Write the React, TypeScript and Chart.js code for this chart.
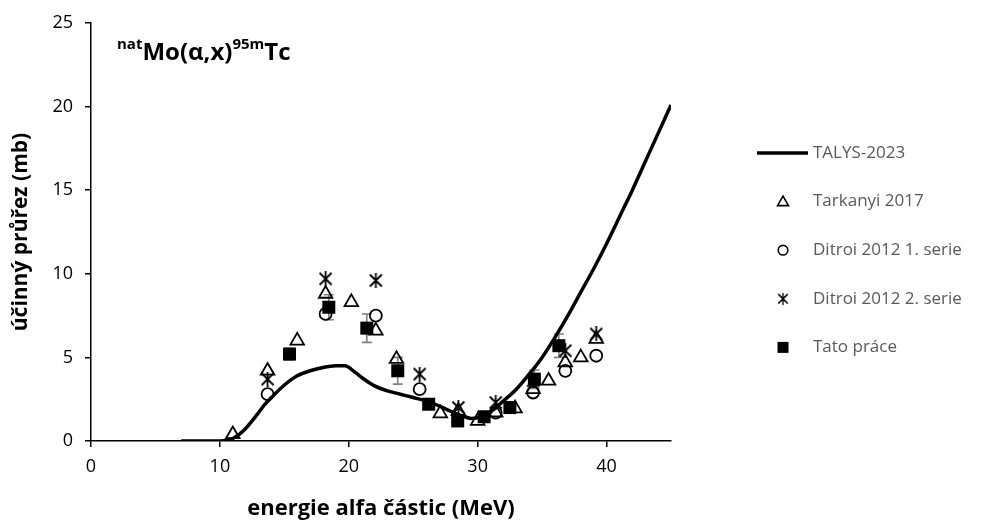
import React, { useEffect, useRef } from "react";
import { Chart, registerables } from "chart.js";

Chart.register(...registerables);

const FONT = "'Open Sans', sans-serif";

// TALYS-2023 model curve
const talysEnergy = [7, 10, 10.5, 11, 11.5, 12, 12.5, 13, 13.5, 14, 15, 16, 17, 18, 19, 19.7, 20.5, 21, 22, 23, 24, 25, 26, 27, 28, 29, 29.5, 30, 31, 32, 33, 34, 35, 36, 37, 38, 39, 40, 41, 42, 43, 44, 45];
const talysXs = [0, 0, 0.03, 0.15, 0.4, 0.75, 1.2, 1.7, 2.2, 2.6, 3.35, 3.9, 4.2, 4.4, 4.5, 4.5, 4.1, 3.8, 3.3, 3.0, 2.8, 2.6, 2.4, 2.1, 1.75, 1.45, 1.35, 1.4, 1.75, 2.4, 3.1, 4.0, 5.0, 6.2, 7.5, 8.9, 10.3, 11.8, 13.4, 15.0, 16.7, 18.4, 20.1];

// Tarkanyi 2017
const tarkanyiEnergy = [11.0, 13.7, 16.0, 18.2, 20.2, 22.1, 23.7, 27.1, 28.5, 30.0, 31.4, 32.9, 34.3, 35.5, 36.8, 38.0, 39.2];
const tarkanyiXs = [0.4, 4.2, 6.0, 8.8, 8.3, 6.6, 4.9, 1.65, 1.8, 1.2, 1.7, 1.95, 3.1, 3.6, 4.7, 5.0, 6.1];

// Ditroi 2012 1. serie
const ditroi1Energy = [13.7, 18.2, 22.1, 25.5, 31.4, 34.3, 36.8, 39.2];
const ditroi1Xs = [2.8, 7.6, 7.5, 3.1, 1.7, 2.9, 4.2, 5.1];

// Ditroi 2012 2. serie
const ditroi2Energy = [13.7, 18.2, 22.1, 25.5, 28.5, 31.4, 34.3, 36.8, 39.2];
const ditroi2Xs = [3.7, 9.7, 9.6, 4.0, 2.0, 2.3, 3.6, 5.4, 6.4];

// Tato práce (with uncertainties)
const tatoEnergy = [15.4, 18.45, 21.4, 23.8, 26.2, 28.45, 30.5, 32.5, 34.4, 36.3];
const tatoXs = [5.2, 8.0, 6.75, 4.2, 2.2, 1.2, 1.45, 2.0, 3.7, 5.7];
const tatoErr = [0.35, 0.75, 0.85, 0.8, 0.25, 0.15, 0.15, 0.15, 0.55, 0.7];

const xTicks = [0, 10, 20, 30, 40];

const seriesLabels = ["TALYS-2023", "Tarkanyi 2017", "Ditroi 2012 1. serie", "Ditroi 2012 2. serie", "Tato práce"];

function zip(xs: number[], ys: number[]) {
  return xs.map((x, i) => ({ x, y: ys[i] }));
}

function makeAsterisk(size: number, lw: number) {
  const c = document.createElement("canvas");
  c.width = size;
  c.height = size;
  const ctx = c.getContext("2d")!;
  ctx.strokeStyle = "#000";
  ctx.lineWidth = lw;
  const m = 1.5;
  ctx.beginPath();
  ctx.moveTo(m, m);
  ctx.lineTo(size - m, size - m);
  ctx.moveTo(size - m, m);
  ctx.lineTo(m, size - m);
  ctx.moveTo(size / 2, 0);
  ctx.lineTo(size / 2, size);
  ctx.stroke();
  return c;
}

const errorBarPlugin = {
  id: "errorBars",
  beforeDatasetsDraw(chart: any) {
    const ctx = chart.ctx;
    const xs = chart.scales.x;
    const ys = chart.scales.y;
    ctx.save();
    ctx.strokeStyle = "#808080";
    ctx.lineWidth = 1.6;
    tatoEnergy.forEach((e, i) => {
      const px = xs.getPixelForValue(e);
      const top = ys.getPixelForValue(tatoXs[i] + tatoErr[i]);
      const bot = ys.getPixelForValue(tatoXs[i] - tatoErr[i]);
      ctx.beginPath();
      ctx.moveTo(px, top);
      ctx.lineTo(px, bot);
      ctx.moveTo(px - 5, top);
      ctx.lineTo(px + 5, top);
      ctx.moveTo(px - 5, bot);
      ctx.lineTo(px + 5, bot);
      ctx.stroke();
    });
    ctx.restore();
  },
};

const titlePlugin = {
  id: "reactionTitle",
  afterDraw(chart: any) {
    const ctx = chart.ctx;
    ctx.save();
    ctx.fillStyle = "#000";
    ctx.textBaseline = "alphabetic";
    ctx.textAlign = "left";
    const parts: [string, boolean][] = [["nat", true], ["Mo(α,x)", false], ["95m", true], ["Tc", false]];
    let x = 117;
    parts.forEach(([t, sup]) => {
      ctx.font = sup ? `bold 15px ${FONT}` : `bold 24px ${FONT}`;
      ctx.fillText(t, x, sup ? 49 : 60);
      x += ctx.measureText(t).width;
    });
    ctx.restore();
  },
};

const legendPlugin = {
  id: "sideLegend",
  afterDraw(chart: any, _args: any, opts: any) {
    const ctx = chart.ctx;
    const asterisk = opts.asterisk;
    ctx.save();
    const x0 = 757;
    const markerX = 783;
    const textX = 813;
    const y0 = 153;
    const dy = 48.6;
    seriesLabels.forEach((label, i) => {
      const y = y0 + dy * i;
      ctx.strokeStyle = "#000";
      ctx.fillStyle = "#000";
      if (i === 0) {
        ctx.lineWidth = 3.5;
        ctx.beginPath();
        ctx.moveTo(x0, y);
        ctx.lineTo(x0 + 51, y);
        ctx.stroke();
      } else if (i === 1) {
        ctx.lineWidth = 1.6;
        ctx.beginPath();
        ctx.moveTo(markerX, y - 5.5);
        ctx.lineTo(markerX + 5.5, y + 4);
        ctx.lineTo(markerX - 5.5, y + 4);
        ctx.closePath();
        ctx.stroke();
      } else if (i === 2) {
        ctx.lineWidth = 1.6;
        ctx.beginPath();
        ctx.arc(markerX, y, 4.8, 0, Math.PI * 2);
        ctx.stroke();
      } else if (i === 3) {
        ctx.drawImage(asterisk, markerX - 6, y - 6, 12, 12);
      } else {
        ctx.fillRect(markerX - 5.5, y - 5.5, 11, 11);
      }
      ctx.fillStyle = "#595959";
      ctx.font = `17px ${FONT}`;
      ctx.textBaseline = "middle";
      ctx.textAlign = "left";
      ctx.fillText(label, textX, y);
    });
    ctx.restore();
  },
};

export default function App() {
  const ref = useRef<HTMLCanvasElement | null>(null);

  useEffect(() => {
    if (!ref.current) return;
    const asterisk = makeAsterisk(15, 1.8);
    const chart = new Chart(ref.current, {
      type: "scatter",
      data: {
        datasets: [
          {
            type: "line",
            label: seriesLabels[0],
            data: zip(talysEnergy, talysXs),
            borderColor: "#000",
            borderWidth: 3.5,
            pointRadius: 0,
            cubicInterpolationMode: "monotone",
            fill: false,
            order: 5,
          } as any,
          {
            label: seriesLabels[1],
            data: zip(tarkanyiEnergy, tarkanyiXs),
            pointStyle: "triangle",
            pointRadius: 7.8,
            borderColor: "#000",
            borderWidth: 1.8,
            backgroundColor: "rgba(0,0,0,0)",
            order: 4,
          },
          {
            label: seriesLabels[2],
            data: zip(ditroi1Energy, ditroi1Xs),
            pointStyle: "circle",
            pointRadius: 6,
            borderColor: "#000",
            borderWidth: 1.8,
            backgroundColor: "rgba(0,0,0,0)",
            order: 3,
          },
          {
            label: seriesLabels[3],
            data: zip(ditroi2Energy, ditroi2Xs),
            pointStyle: asterisk,
            pointRadius: 7,
            borderColor: "#000",
            backgroundColor: "#000",
            order: 2,
          },
          {
            label: seriesLabels[4],
            data: zip(tatoEnergy, tatoXs),
            pointStyle: "rect",
            pointRadius: 9.2,
            borderColor: "#000",
            borderWidth: 0,
            backgroundColor: "#000",
            order: 1,
          },
        ],
      },
      options: {
        animation: false,
        responsive: false,
        maintainAspectRatio: false,
        layout: { padding: { left: 0, top: 23, right: 327, bottom: 0 } },
        plugins: {
          legend: { display: false },
          tooltip: { enabled: false },
          sideLegend: { asterisk },
        } as any,
        scales: {
          x: {
            type: "linear",
            min: 0,
            max: 45,
            afterBuildTicks: (scale: any) => {
              scale.ticks = xTicks.map((v) => ({ value: v }));
            },
            afterFit: (scale: any) => {
              scale.height = 81;
            },
            border: { display: true, color: "#000", width: 1.5 },
            grid: { display: true, drawOnChartArea: false, drawTicks: true, tickLength: 6, color: "#000", lineWidth: 1.5 },
            ticks: { color: "#000", font: { family: FONT, size: 18 }, padding: 9 },
            title: {
              display: true,
              text: "energie alfa částic (MeV)",
              color: "#000",
              font: { family: FONT, size: 22, weight: "bold" },
              padding: { top: 0, bottom: 0 },
            },
          },
          y: {
            type: "linear",
            min: 0,
            max: 25,
            afterFit: (scale: any) => {
              scale.width = 91;
            },
            border: { display: true, color: "#000", width: 1.5 },
            grid: { display: true, drawOnChartArea: false, drawTicks: true, tickLength: 6, color: "#000", lineWidth: 1.5 },
            ticks: { stepSize: 5, color: "#000", font: { family: FONT, size: 18 }, padding: 12 },
            title: {
              display: true,
              text: "účinný průřez (mb)",
              color: "#000",
              font: { family: FONT, size: 21, weight: "bold" },
              padding: { top: 8, bottom: 0 },
            },
          },
        },
      },
      plugins: [errorBarPlugin, titlePlugin, legendPlugin],
    });
    return () => chart.destroy();
  }, []);

  return (
    <div style={{ position: "fixed", left: 0, top: 0, width: 998, height: 522, background: "#fff" }}>
      <canvas ref={ref} width={998} height={522} style={{ width: 998, height: 522, display: "block" }} />
    </div>
  );
}
